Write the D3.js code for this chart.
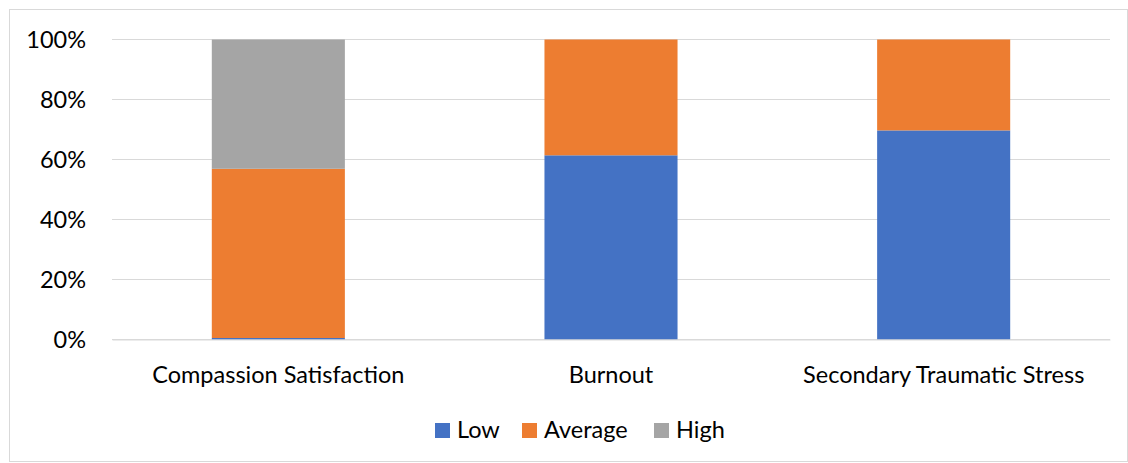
<!DOCTYPE html>
<html>
<head>
<meta charset="utf-8">
<script src="https://cdn.jsdelivr.net/npm/d3@7"></script>
<style>
  body { margin: 0; background: #fff; }
  text { font-family: Lato, "Open Sans", sans-serif; fill: #000; }
</style>
</head>
<body>
<div id="chart"></div>
<script>
// Chart data
var categories = ["Compassion Satisfaction", "Burnout", "Secondary Traumatic Stress"];
var seriesNames = ["Low", "Average", "High"];
var lowValues = [0.5, 61.4, 69.7];
var averageValues = [56.4, 38.6, 30.3];
var highValues = [43.1, 0, 0];
var yTicks = [0, 20, 40, 60, 80, 100];
var colors = ["#4472C4", "#ED7D31", "#A5A5A5"];

var W = 1128, H = 463;
var margin = {top: 39.5, right: 18, bottom: 123.5, left: 112};
var width = W - margin.left - margin.right,
    height = H - margin.top - margin.bottom;
var fontSize = "23.5px";

var svg = d3.select("#chart").append("svg")
    .attr("width", W)
    .attr("height", H);

// outer border
svg.append("rect")
    .attr("x", 9.5).attr("y", 9.5)
    .attr("width", W - 10).attr("height", H - 11)
    .attr("fill", "none")
    .attr("stroke", "#d9d9d9");

var g = svg.append("g")
    .attr("transform", "translate(" + margin.left + "," + margin.top + ")");

// Scales
var x = d3.scaleBand()
    .domain(categories)
    .range([0, width])
    .paddingInner(0.6)
    .paddingOuter(0.3);

var y = d3.scaleLinear()
    .domain([0, 100])
    .range([height, 0]);

// Gridlines
g.append("g")
  .selectAll("line")
  .data(yTicks)
  .enter().append("line")
    .attr("x1", 0).attr("x2", width)
    .attr("y1", function(d) { return y(d); })
    .attr("y2", function(d) { return y(d); })
    .attr("stroke", "#d9d9d9")
    .attr("stroke-width", 1.2);

// Y axis labels
var yAxis = d3.axisLeft(y)
    .tickValues(yTicks)
    .tickSize(0)
    .tickPadding(26)
    .tickFormat(function(d) { return d + "%"; });

g.append("g")
    .attr("class", "axis y-axis")
    .call(yAxis)
    .call(function(a) { a.select(".domain").remove(); })
    .selectAll("text")
    .style("font-size", fontSize);

// Stacked bars
var rows = categories.map(function(c, i) {
  return {cat: c, Low: lowValues[i], Average: averageValues[i], High: highValues[i]};
});
var stacked = d3.stack().keys(seriesNames)(rows);

g.selectAll(".series")
  .data(stacked)
  .enter().append("g")
    .attr("class", "series")
    .attr("fill", function(d, i) { return colors[i]; })
  .selectAll("rect")
  .data(function(d) { return d; })
  .enter().append("rect")
    .attr("x", function(d) { return x(d.data.cat); })
    .attr("width", x.bandwidth())
    .attr("y", function(d) { return y(d[1]); })
    .attr("height", function(d) { return y(d[0]) - y(d[1]); });

// X axis
var xAxis = d3.axisBottom(x).tickSize(0).tickPadding(26.5);
g.append("g")
    .attr("class", "axis x-axis")
    .attr("transform", "translate(0," + height + ")")
    .call(xAxis)
    .call(function(a) { a.select(".domain").attr("stroke", "#d9d9d9").attr("stroke-width", 1.2); })
    .selectAll("text")
    .style("font-size", fontSize);

// Legend
var legendX = [435, 522, 654];
var legend = svg.append("g").attr("class", "legend");
seriesNames.forEach(function(name, i) {
  legend.append("rect")
    .attr("x", legendX[i]).attr("y", 423)
    .attr("width", 15).attr("height", 15)
    .attr("fill", colors[i]);
  legend.append("text")
    .attr("x", legendX[i] + 22).attr("y", 438)
    .style("font-size", fontSize)
    .text(name);
});
</script>
</body>
</html>
